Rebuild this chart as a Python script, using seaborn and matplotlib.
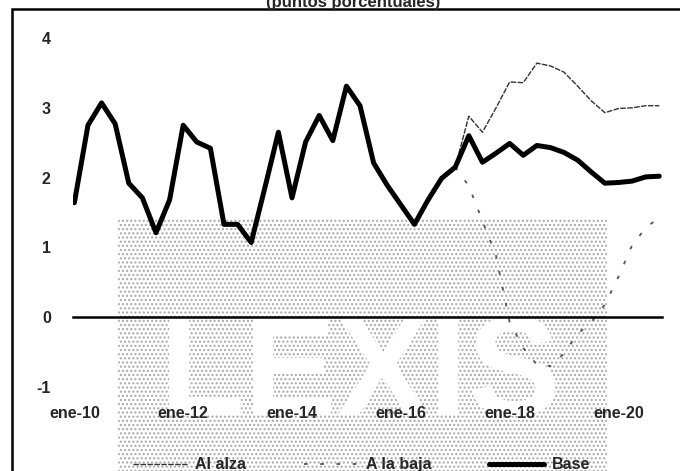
import numpy as np
import pandas as pd
import seaborn as sns
import matplotlib.pyplot as plt
from matplotlib.patches import Rectangle

# datos trimestrales ene-10 .. oct-20 (puntos porcentuales)
trimestres = list(range(44))
base = [1.64, 2.75, 3.07, 2.77, 1.92, 1.71, 1.21, 1.68, 2.75, 2.51, 2.42, 1.33,
        1.33, 1.07, 1.85, 2.65, 1.71, 2.51, 2.89, 2.53, 3.31, 3.03, 2.21, 1.89,
        1.61, 1.33, 1.68, 1.99, 2.15, 2.60, 2.22, 2.35, 2.49, 2.32, 2.46, 2.43,
        2.36, 2.25, 2.08, 1.92, 1.93, 1.95, 2.01, 2.02]
al_alza = [np.nan] * 28 + [2.15, 2.88, 2.65, 3.00, 3.37, 3.36, 3.64, 3.60,
                           3.51, 3.31, 3.10, 2.93, 2.99, 3.00, 3.03, 3.03]
a_la_baja = [np.nan] * 28 + [2.15, 1.88, 1.38, 0.88, -0.07, -0.44, -0.68, -0.70,
                             -0.52, -0.24, -0.07, 0.18, 0.58, 1.03, 1.28, 1.43]
tick_pos = [0, 8, 16, 24, 32, 40]
tick_labels = ["ene-10", "ene-12", "ene-14", "ene-16", "ene-18", "ene-20"]

df = pd.DataFrame({"t": trimestres, "Base": base, "Al alza": al_alza, "A la baja": a_la_baja})

sns.set_style("white")
plt.rcParams['font.family'] = ['Liberation Sans', 'DejaVu Sans']
plt.rcParams['font.weight'] = 'bold'

fig = plt.figure(figsize=(6.8, 4.71), dpi=100)
ax = fig.add_axes([73 / 680, 84 / 471, 589 / 680, 349 / 471])
ax.patch.set_visible(False)

# marca de agua del escaneo
fig.add_artist(Rectangle((118 / 680, 0), 489 / 680, 253 / 471, transform=fig.transFigure,
                         facecolor="white", edgecolor="#a8a8a8", hatch="....", lw=0, zorder=-2))
fig.text(360 / 680, 92 / 471, "LEXIS", fontsize=100, color="white", ha="center",
         va="center", fontweight="bold", zorder=-1)

sns.lineplot(data=df, x="t", y="Al alza", ax=ax, color="#333333", lw=1.0,
             linestyle=(0, (4, 1)), label="Al alza")
sns.lineplot(data=df, x="t", y="A la baja", ax=ax, color="#555555", lw=1.3,
             linestyle=(0, (2, 7)), label="A la baja")
sns.lineplot(data=df, x="t", y="Base", ax=ax, color="black", lw=3.6, label="Base")

ax.set_xlim(-0.1, 43.2)
ax.set_ylim(-1, 4)
ax.set_yticks([-1, 0, 1, 2, 3, 4])
ax.set_yticklabels(["-1", "0", "1", "2", "3", "4"])
ax.set_xticks(tick_pos)
ax.set_xticklabels(tick_labels)
ax.set_xlabel("")
ax.set_ylabel("")

for s in ["top", "right", "left"]:
    ax.spines[s].set_visible(False)
ax.spines["bottom"].set_position(("data", 0))
ax.spines["bottom"].set_linewidth(1.8)
ax.spines["bottom"].set_color("black")
ax.tick_params(axis="x", direction="out", length=4, width=1.5, pad=60, labelsize=11.5)
ax.tick_params(axis="y", length=0, pad=16, labelsize=11.5)

leg = ax.legend(loc="upper center", bbox_to_anchor=(0.49, -0.16), ncol=3, frameon=False,
                fontsize=11.5, handlelength=3.4, columnspacing=3.6, handletextpad=0.5)

# titulo recortado y marco
fig.text(353 / 680, 1 - 2 / 471, "(puntos porcentuales)", ha="center", va="center",
         fontsize=12, fontweight="bold")
fig.add_artist(Rectangle((12 / 680, -0.05), 0.99, 1 - 9 / 471 + 0.05, transform=fig.transFigure,
                         fill=False, edgecolor="black", lw=1.8))

fig.savefig("out.png", dpi=100)
